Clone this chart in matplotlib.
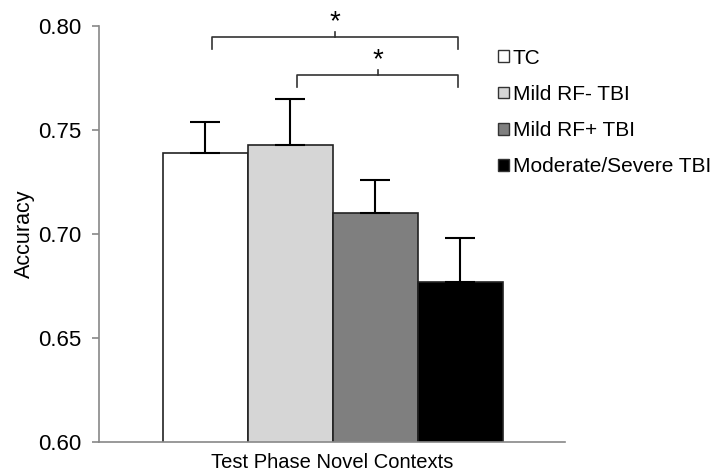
import numpy as np
import matplotlib
matplotlib.use("Agg")
import matplotlib.pyplot as plt
from matplotlib.patches import Patch

plt.rcParams['font.family'] = ['Liberation Sans', 'DejaVu Sans']

groups = ["TC", "Mild RF- TBI", "Mild RF+ TBI", "Moderate/Severe TBI"]
accuracy = [0.739, 0.743, 0.710, 0.677]
sem = [0.015, 0.022, 0.016, 0.021]
colors = ["white", "#d6d6d6", "#7f7f7f", "black"]
yticks = [0.60, 0.65, 0.70, 0.75, 0.80]
xlabel = "Test Phase Novel Contexts"
ylabel = "Accuracy"

# significance brackets: (left bar, right bar, bracket height)
brackets = [(0, 3, 0.7947), (1, 3, 0.7764)]

fig = plt.figure(figsize=(7.15, 4.74), dpi=100)
ax = fig.add_axes([0.1385, 0.0675, 0.6515, 0.8775])

x = np.arange(len(groups))
ax.bar(x, accuracy, width=1.0, color=colors, edgecolor="#222222", linewidth=1.2, zorder=2)
ax.errorbar(x, accuracy, yerr=[np.zeros(len(sem)), sem], fmt="none", ecolor="black",
            elinewidth=1.5, capsize=11, capthick=1.5, zorder=3)

ax.set_xlim(-1.253, 4.229)
ax.set_ylim(0.60, 0.80)
ax.set_yticks(yticks)
ax.set_yticklabels([f"{t:.2f}" for t in yticks], fontsize=16)
ax.set_xticks([])
ax.set_ylabel(ylabel, fontsize=15.5, labelpad=2)
ax.set_xlabel(xlabel, fontsize=14.5, labelpad=8)

for s in ["top", "right"]:
    ax.spines[s].set_visible(False)
for s in ["left", "bottom"]:
    ax.spines[s].set_color("#888888")
    ax.spines[s].set_linewidth(1.2)
ax.tick_params(axis="y", direction="out", length=5, color="#888888", width=1.2, pad=8)

# brackets with stars
for left, right, h in brackets:
    xl, xr = left + 0.08, right - 0.03
    drop = 0.0058
    mid = (xl + xr) / 2
    ax.plot([xl, xl, xr, xr], [h - drop, h, h, h - drop], color="#333333", lw=1.2,
            clip_on=False, solid_joinstyle="round")
    ax.plot([mid, mid], [h, h + 0.0025], color="#333333", lw=1.2, clip_on=False)
    ax.text(mid, h + 0.001, "*", ha="center", va="bottom", fontsize=20, clip_on=False)

handles = [Patch(facecolor=c, edgecolor="#333333", linewidth=1.0) for c in colors]
fig.legend(handles, groups, loc="upper left", bbox_to_anchor=(0.697, 0.897), frameon=False,
           fontsize=15, handlelength=0.5, handleheight=0.5, handletextpad=0.2,
           labelspacing=0.82, borderaxespad=0, borderpad=0)

fig.savefig("out.png", dpi=100)
